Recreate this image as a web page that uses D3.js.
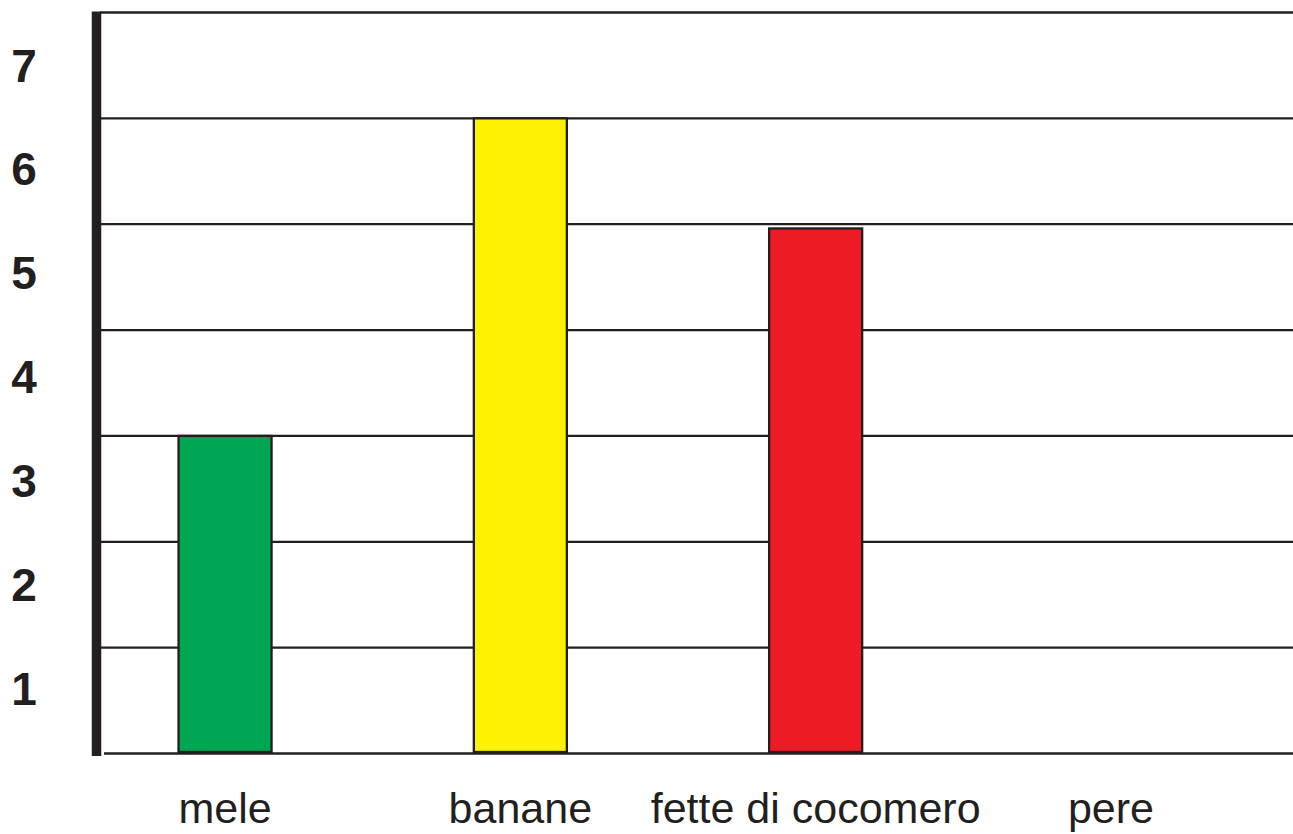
<!DOCTYPE html>
<html>
<head>
<meta charset="utf-8">
<script src="https://cdn.jsdelivr.net/npm/d3@7"></script>
<style>
  html, body { margin: 0; padding: 0; background: #fff; }
  svg { display: block; }
  text { font-family: "Liberation Sans", Arial, Helvetica, sans-serif; fill: #231f20; }
</style>
</head>
<body>
<svg id="chart" width="1293" height="834"></svg>
<script>
const categories = ["mele", "banane", "fette di cocomero", "pere"];
const values = [3, 6, 4.96, 0];
const barColors = ["#00a651", "#fff200", "#ed1c24", "#9e9e9e"];
const tickValues = [1, 2, 3, 4, 5, 6, 7];
const gridValues = [0, 1, 2, 3, 4, 5, 6, 7];

const W = 1293, H = 834;
const ink = "#231f20";
const svg = d3.select("#chart");

const y = d3.scaleLinear().domain([0, 7]).range([753.5, 12.5]);
const x = d3.scalePoint().domain(categories).range([77.4, 1258.6]).padding(0.5);
const barW = x.step() * 0.315;
// tick labels sit in the band below each grid line
const yLabel = d3.scaleLinear().domain([1, 7]).range([688.5, 65]);

// grid lines
svg.append("g").selectAll("line").data(gridValues).join("line")
  .attr("x1", d => d === 0 ? 104 : 100)
  .attr("x2", W)
  .attr("y1", d => y(d)).attr("y2", d => y(d))
  .attr("stroke", ink).attr("stroke-width", 2.3);

// bars
svg.append("g").selectAll("rect").data(categories.map((c, i) => ({c, v: values[i], col: barColors[i]})).filter(d => d.v > 0))
  .join("rect")
  .attr("x", d => x(d.c) - barW / 2)
  .attr("width", barW)
  .attr("y", d => y(d.v))
  .attr("height", d => y(0) - 1.5 - y(d.v))
  .attr("fill", d => d.col)
  .attr("stroke", ink).attr("stroke-width", 2.3);

// y axis thick line
svg.append("line")
  .attr("x1", 96.5).attr("x2", 96.5)
  .attr("y1", 11.5).attr("y2", 756)
  .attr("stroke", ink).attr("stroke-width", 9.5);

// y tick labels
svg.append("g").selectAll("text").data(tickValues).join("text")
  .attr("x", 24)
  .attr("y", d => yLabel(d) + 16.5)
  .attr("text-anchor", "middle")
  .attr("font-size", 46)
  .attr("font-weight", "bold")
  .text(d => d);

// category labels
svg.append("g").selectAll("text").data(categories).join("text")
  .attr("x", d => x(d))
  .attr("y", 823)
  .attr("text-anchor", "middle")
  .attr("font-size", 43)
  .text(d => d);
</script>
</body>
</html>
